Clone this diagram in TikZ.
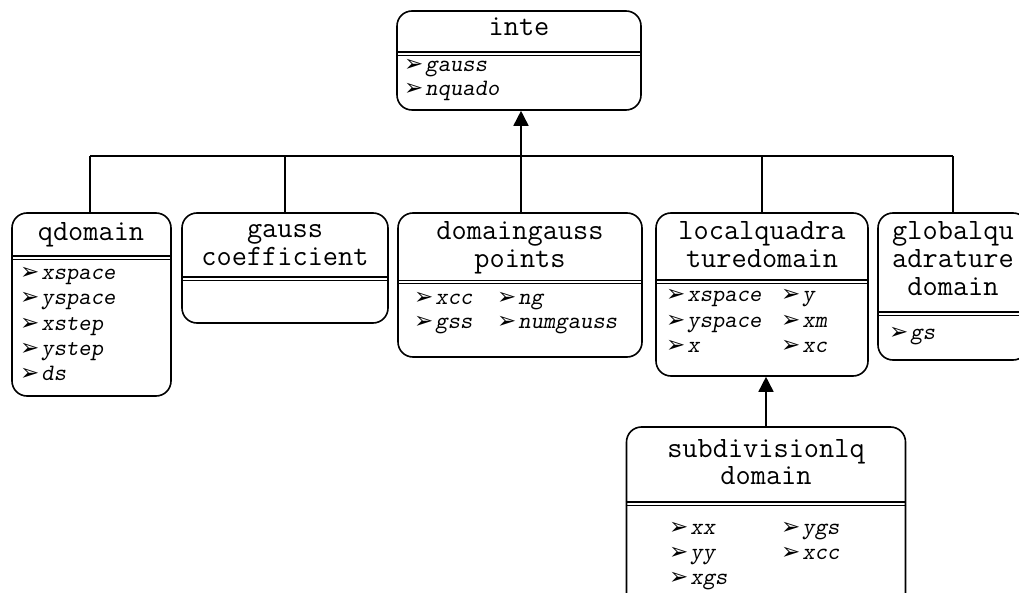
\documentclass[tikz,border=0pt]{standalone}
\usepackage{fontspec}
\newfontfamily\dingfont{DejaVu Sans}
\usetikzlibrary{arrows.meta}

% bullet and list entry
\newcommand{\bul}{{\dingfont\fontsize{23}{23}\selectfont ➢}}
\newcommand{\entry}[1]{\bul\kern2pt{\ttfamily\fontsize{23.5}{23.5}\selectfont\slshape #1}}

\tikzset{
  classbox/.style={draw, line width=1.6pt, rounded corners=15pt, minimum width=#1, inner sep=0pt},
  ttl/.style={anchor=mid, inner sep=0pt, font=\ttfamily\fontsize{29.5}{29.5}\selectfont},
  itm/.style={anchor=mid west, inner sep=0pt},
  link/.style={line width=1.6pt},
  inherit/.style={line width=1.6pt, -{Triangle[length=15pt,width=15pt]}},
}

% horizontal separator: thick line with a thin one just below
\newcommand{\sepline}[2]{%
  \draw[line width=1.8pt] (#1.west |- 0,#2) -- (#1.east |- 0,#2);
  \draw[line width=1pt] (#1.west |- 0,#2+3.5) -- (#1.east |- 0,#2+3.5);}

\begin{document}
\begin{tikzpicture}[x=1pt, y=-1pt]
\useasboundingbox (0,0) rectangle (1019,593);
\begin{scope}
\clip (0,0) rectangle (1019,593);

% ---- boxes ----
\node[classbox=244pt, minimum height=99pt] (inte) at (519,60.5) {};
\node[classbox=159pt, minimum height=183pt] (qd) at (91.5,304.5) {};
\node[classbox=206pt, minimum height=110pt] (gc) at (285,268) {};
\node[classbox=244pt, minimum height=144pt] (dg) at (520,285) {};
\node[classbox=212pt, minimum height=163pt] (lq) at (762,294.5) {};
\node[classbox=150pt, minimum height=147pt] (gq) at (953,286.5) {};
\node[classbox=279pt, minimum height=190pt] (sd) at (766,522) {};

% ---- separators ----
\sepline{inte}{52}
\sepline{qd}{256}
\sepline{gc}{277}
\sepline{dg}{280.5}
\sepline{lq}{280}
\sepline{gq}{312}
\sepline{sd}{502}

% ---- titles ----
\node[ttl] (t1) at (519,33) {inte};
\node[ttl] (t2) at (91,238) {qdomain};
\node[ttl] (t3) at (285,235) {gauss};
\node[ttl] (t4) at (285,263) {coefficient};
\node[ttl] (t5) at (520,237) {domaingauss};
\node[ttl] (t6) at (520,265) {points};
\node[ttl] (t7) at (762,237) {localquadra};
\node[ttl] (t8) at (762,265) {turedomain};
\node[ttl] (t9) at (953,237) {globalqu};
\node[ttl] (t10) at (953,265) {adrature};
\node[ttl] (t11) at (953,293) {domain};
\node[ttl] (t12) at (766,455) {subdivisionlq};
\node[ttl] (t13) at (766,482) {domain};

% ---- attributes ----
\node[itm] (a1) at (404,69) {\entry{gauss}};
\node[itm] (a2) at (404,93) {\entry{nquado}};

\node[itm] (b1) at (20,277) {\entry{xspace}};
\node[itm] (b2) at (20,302) {\entry{yspace}};
\node[itm] (b3) at (20,328) {\entry{xstep}};
\node[itm] (b4) at (20,353) {\entry{ystep}};
\node[itm] (b5) at (20,378) {\entry{ds}};

\node[itm] (c1) at (414,302) {\entry{xcc}};
\node[itm] (c2) at (414,326) {\entry{gss}};
\node[itm] (c3) at (497,302) {\entry{ng}};
\node[itm] (c4) at (497,326) {\entry{numgauss}};

\node[itm] (d1) at (666,299) {\entry{xspace}};
\node[itm] (d2) at (666,325) {\entry{yspace}};
\node[itm] (d3) at (666,350) {\entry{x}};
\node[itm] (d4) at (781,299) {\entry{y}};
\node[itm] (d5) at (781,325) {\entry{xm}};
\node[itm] (d6) at (781,350) {\entry{xc}};

\node[itm] (e1) at (889,337) {\entry{gs}};

\node[itm] (f1) at (669,532) {\entry{xx}};
\node[itm] (f2) at (669,557) {\entry{yy}};
\node[itm] (f3) at (669,582) {\entry{xgs}};
\node[itm] (f4) at (781,532) {\entry{ygs}};
\node[itm] (f5) at (781,557) {\entry{xcc}};

% ---- connectors ----
\coordinate (busL) at (90,156);
\coordinate (busR) at (953,156);
\coordinate (busM) at (521,156);
\draw[link] (busL) -- (busR);
\draw[link] (qd.north -| busL) -- (busL);
\draw[link] (gc.north) -- (gc.north |- busL);
\draw[link] (dg.north -| busM) -- (busM);
\draw[link] (lq.north) -- (lq.north |- busL);
\draw[link] (gq.north) -- (gq.north |- busL);
\draw[inherit] (busM) -- (busM |- inte.south);
\draw[inherit] (sd.north) -- (sd.north |- lq.south);
\end{scope}
\end{tikzpicture}
\end{document}
